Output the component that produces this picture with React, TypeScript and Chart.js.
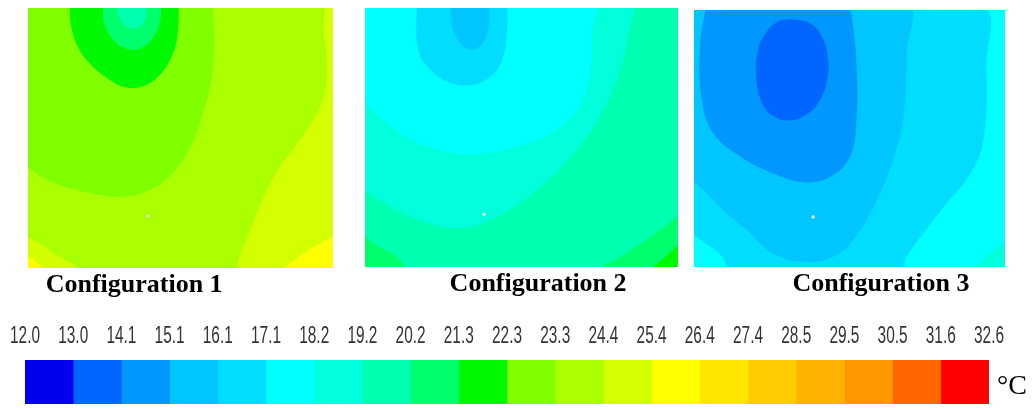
import React, { useEffect, useRef } from "react";
import { Chart, registerables } from "chart.js";

Chart.register(...registerables);

// ---------- data ----------
const levelLabels = [
  "12.0", "13.0", "14.1", "15.1", "16.1", "17.1", "18.2", "19.2", "20.2", "21.3",
  "22.3", "23.3", "24.4", "25.4", "26.4", "27.4", "28.5", "29.5", "30.5", "31.6", "32.6",
];
const bandColors = [
  "#0000F0", "#0066FF", "#0098FF", "#00C6FF", "#00DDFF", "#00FFFF", "#00FFDA", "#00FFAE",
  "#00FF6C", "#00F800", "#80FF00", "#AAFF00", "#D4FF00", "#FFFF00", "#FFE600", "#FFCC00",
  "#FFB300", "#FF9800", "#FF6600", "#FF0000",
];
const unitLabel = "°C";
const panelTitles = ["Configuration 1", "Configuration 2", "Configuration 3"];

// contour regions: band index (into bandColors) + outline in panel units (0..100)
const config1Bands = [12, 13, 13, 11, 10, 9, 8, 7];
const config1Outlines: number[][][] = [
  [[-2, -2], [102, -2], [102, 102], [-2, 102]],
  [[82, -2], [86, 2], [91, 6], [96, 9.5], [102, 12], [102, -2]],
  [[-2, -2], [-2, 5], [3, 2], [6, -2]],
  [[-2, 102], [95, 102], [97, 90], [98, 78], [97, 66], [93, 56], [87, 46], [81, 36], [76, 24], [72, 12], [69, 3], [68, -2], [20, -2], [14, 2], [8, 6], [3, 10], [-2, 13]],
  [[-2, 102], [-2, 42], [2, 37], [8, 33], [16, 30], [24, 28], [32, 27.5], [40, 30], [47, 36], [53, 46], [57, 58], [60, 72], [61, 86], [60.5, 102]],
  [[13.7, 102], [14, 94], [16, 86], [20, 79], [26, 73], [32, 69.5], [38, 70], [43, 74], [47, 81], [49, 89], [49.5, 102]],
  [[24.5, 102], [25, 94], [27.5, 88.5], [31, 85], [35, 84], [39, 86], [42, 90.5], [43.5, 96], [43.5, 102]],
  [[29, 102], [30, 96], [33, 92.5], [36, 92.5], [38.5, 96], [39, 102]],
];

const config2Bands = [7, 8, 8, 9, 6, 5, 4, 3];
const config2Outlines: number[][][] = [
  [[-2, -2], [102, -2], [102, 102], [-2, 102]],
  [[-2, -2], [-2, 12], [4, 8], [10, 4], [14, -2]],
  [[72, -2], [80, 3], [88, 9], [95, 15], [102, 20], [102, -2]],
  [[90, -2], [95, 3], [102, 9], [102, -2]],
  [[-2, 102], [84, 102], [84, 88], [81, 74], [76, 60], [69, 47], [60, 35], [50, 25], [40, 18], [30, 15], [20, 17], [10, 22], [3, 27], [-2, 30]],
  [[-2, 102], [72.5, 102], [72.5, 90], [72, 75], [68, 61], [60, 52], [49, 46.5], [38.5, 44], [28, 44], [15, 49], [5.5, 57], [-2, 66]],
  [[16.5, 102], [17, 84], [21, 76], [27.5, 71], [34, 70.3], [39.5, 73], [43.5, 79], [45.3, 90], [45.5, 102]],
  [[27.5, 102], [27.5, 95], [29, 89], [31.5, 85], [34, 84], [37, 85.5], [39, 90], [39.8, 96], [39.5, 102]],
];

const config3Bands = [5, 6, 4, 3, 2, 1];
const config3Outlines: number[][][] = [
  [[-2, -2], [102, -2], [102, 102], [-2, 102]],
  [[88, -2], [93, 3], [97, 7], [102, 10], [102, -2]],
  [[-2, 102], [92, 102], [94, 78], [93, 49], [88.7, 36], [80, 23], [73.7, 13], [68, 3], [67, -2], [12, -2], [9, 4], [4, 9], [-2, 14]],
  [[-2, 102], [68.4, 102], [68.4, 84], [67.3, 58], [64, 41.6], [58.7, 26], [51.2, 10.4], [44.8, 4], [36.2, 2], [25.5, 5.2], [17, 14.3], [9.4, 22], [3, 30], [-2, 35]],
  [[4, 102], [2, 87], [2.5, 65], [6.2, 52], [14.8, 43], [25.5, 36.4], [35.2, 33], [43.7, 35], [50.2, 43], [52.3, 58.4], [52.3, 78], [51.2, 93.5], [50, 102]],
  [[31, 96.5], [37, 95], [41, 90], [43, 82], [43, 74], [41, 66], [37, 60], [31, 57], [25, 59], [21.5, 65], [20, 74], [20.5, 84], [23, 91], [27, 95.5], [31, 96.5]],
];

const sensorU = [39.3, 38.0, 38.3];
const sensorV = [20.0, 20.4, 19.5];

// ---------- layout ----------
const PANEL_BANDS = [config1Bands, config2Bands, config3Bands];
const PANEL_OUTLINES = [config1Outlines, config2Outlines, config3Outlines];
const PANELS = [
  { left: 28, top: 8, width: 305, height: 260, titleAt: 34.8 },
  { left: 365, top: 8, width: 313, height: 259, titleAt: 55.3 },
  { left: 694, top: 10, width: 311, height: 257, titleAt: 60.1 },
];
const TITLE_BOX = 40;
const SERIF = "'Liberation Serif', 'Times New Roman', serif";
const SANS = "'Liberation Sans', Arial, sans-serif";
const LABEL_STRETCH = 0.67;

// draw the scale's own tick labels horizontally condensed (narrow font look)
function condenseLabels(s: any) {
  if (s.$condensed) return;
  s.$condensed = true;
  s.drawLabels = function (chartArea: any) {
    const ctx = this.ctx;
    const items = this.getLabelItems(chartArea);
    for (const item of items) {
      const o = item.options;
      ctx.save();
      ctx.translate(o.translation[0], o.translation[1]);
      ctx.scale(LABEL_STRETCH, 1);
      ctx.font = item.font.string;
      ctx.fillStyle = o.color;
      ctx.textAlign = o.textAlign;
      ctx.textBaseline = o.textBaseline;
      ctx.fillText(String(item.label), 0, item.textOffset);
      ctx.restore();
    }
  };
}

function ContourPanel({ index }: { index: number }) {
  const ref = useRef<HTMLCanvasElement>(null);
  const layout = PANELS[index];
  useEffect(() => {
    if (!ref.current) return;
    const bands = PANEL_BANDS[index];
    const outlines = PANEL_OUTLINES[index];
    const datasets: any[] = outlines.map((pts, k) => ({
      data: pts.map(([x, y]) => ({ x, y })),
      showLine: true,
      fill: "shape",
      backgroundColor: bandColors[bands[k]],
      borderColor: bandColors[bands[k]],
      borderWidth: 0,
      pointRadius: 0,
      pointHoverRadius: 0,
      tension: k === 0 ? 0 : 0.4,
      order: -k,
    }));
    datasets.push({
      data: [{ x: sensorU[index], y: sensorV[index] }],
      showLine: false,
      pointRadius: 1.6,
      pointBorderWidth: 0,
      pointBackgroundColor: "#ffffff",
      order: -100,
    });
    const chart = new Chart(ref.current, {
      type: "scatter",
      data: { datasets },
      options: {
        animation: false,
        responsive: false,
        events: [],
        layout: { padding: 0, autoPadding: false },
        elements: { line: { capBezierPoints: false } as any },
        plugins: { legend: { display: false }, tooltip: { enabled: false } },
        scales: {
          x: {
            type: "linear",
            min: 0,
            max: 100,
            grid: { display: false, drawTicks: false },
            border: { display: false },
            afterBuildTicks: (s: any) => {
              s.ticks = [{ value: layout.titleAt }];
            },
            afterFit: (s: any) => {
              s.height = TITLE_BOX;
              s.paddingLeft = 0;
              s.paddingRight = 0;
            },
            ticks: {
              autoSkip: false,
              maxRotation: 0,
              padding: 2,
              color: "#000000",
              font: { family: SERIF, size: 26, weight: "bold" },
              callback: () => panelTitles[index],
            },
          },
          y: { type: "linear", min: 0, max: 100, display: false },
        },
      } as any,
    });
    return () => chart.destroy();
  }, [index]);
  return (
    <canvas
      ref={ref}
      width={layout.width}
      height={layout.height + TITLE_BOX}
      style={{
        position: "absolute",
        left: layout.left,
        top: layout.top,
        width: layout.width,
        height: layout.height + TITLE_BOX,
      }}
    />
  );
}

const BAR = { top: 318, height: 86, axisH: 42, left: 25, unitW: 45 };

function ColorBar() {
  const ref = useRef<HTMLCanvasElement>(null);
  useEffect(() => {
    if (!ref.current) return;
    const chart = new Chart(ref.current, {
      type: "bar",
      data: {
        labels: [""],
        datasets: bandColors.map((c, i) => ({
          data: [[i, i + 1]],
          backgroundColor: c,
          borderWidth: 0,
          grouped: false,
          barPercentage: 1,
          categoryPercentage: 1,
          xAxisID: "x",
          yAxisID: "y",
        })),
      },
      options: {
        indexAxis: "y",
        animation: false,
        responsive: false,
        events: [],
        layout: { padding: { left: BAR.left, right: 0, top: 0, bottom: 0 }, autoPadding: false },
        plugins: { legend: { display: false }, tooltip: { enabled: false } },
        scales: {
          x: {
            type: "linear",
            position: "top",
            min: 0,
            max: levelLabels.length - 1,
            grid: { display: false, drawTicks: false },
            border: { display: false },
            afterBuildTicks: (s: any) => {
              s.ticks = levelLabels.map((_, i) => ({ value: i }));
            },
            afterFit: (s: any) => {
              s.height = BAR.axisH;
              s.paddingLeft = 0;
              s.paddingRight = 0;
              condenseLabels(s);
            },
            ticks: {
              autoSkip: false,
              maxRotation: 0,
              padding: 10,
              color: "#333333",
              font: { family: SANS, size: 23 },
              callback: (_v: any, i: number) => levelLabels[i],
            },
          },
          y: { type: "category", display: false },
          yUnit: {
            type: "linear",
            position: "right",
            min: 0,
            max: 1,
            grid: { display: false, drawTicks: false },
            border: { display: false },
            afterBuildTicks: (s: any) => {
              s.ticks = [{ value: 0.3 }];
            },
            afterFit: (s: any) => {
              s.width = BAR.unitW;
              s.paddingTop = 0;
              s.paddingBottom = 0;
            },
            ticks: {
              padding: 8,
              color: "#000000",
              font: { family: SERIF, size: 28 },
              callback: () => unitLabel,
            },
          },
        },
      } as any,
    });
    return () => chart.destroy();
  }, []);
  return (
    <canvas
      ref={ref}
      width={1034}
      height={BAR.height}
      style={{ position: "absolute", left: 0, top: BAR.top, width: 1034, height: BAR.height }}
    />
  );
}

export default function App() {
  return (
    <div
      style={{
        position: "absolute",
        left: 0,
        top: 0,
        width: 1034,
        height: 410,
        background: "#ffffff",
        overflow: "hidden",
      }}
    >
      {PANELS.map((_, i) => (
        <ContourPanel key={i} index={i} />
      ))}
      <ColorBar />
    </div>
  );
}
